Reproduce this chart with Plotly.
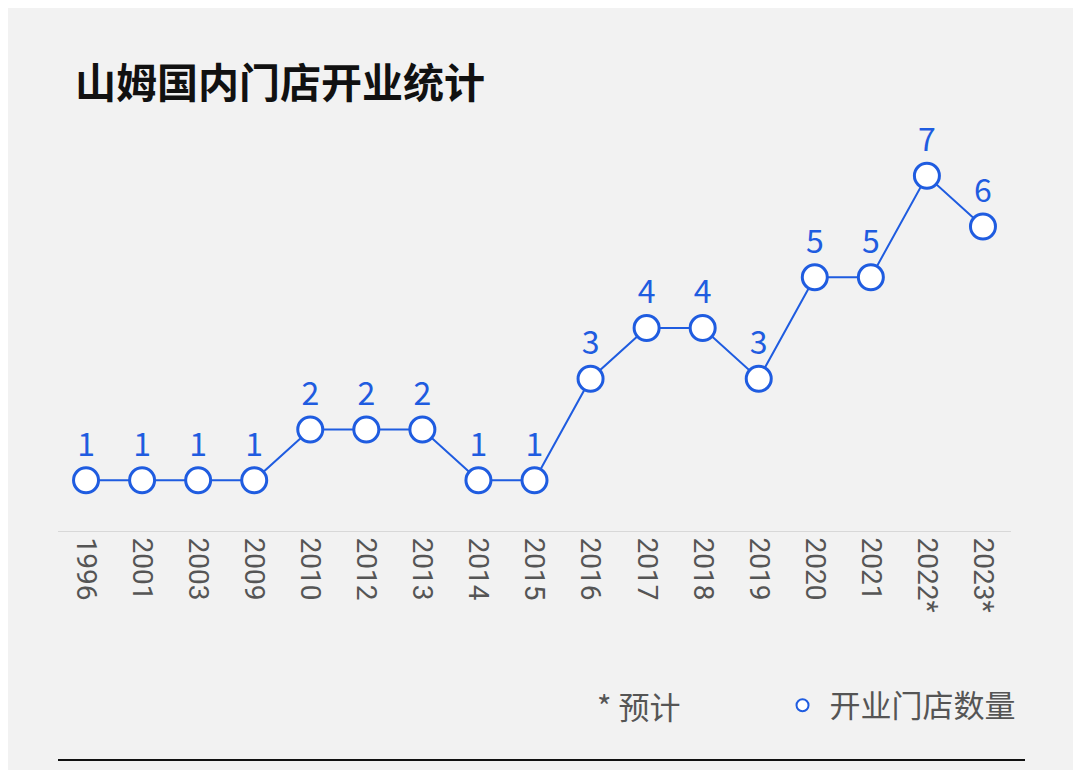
import plotly.graph_objects as go

years = ["1996","2001","2003","2009","2010","2012","2013","2014","2015","2016",
         "2017","2018","2019","2020","2021","2022*","2023*"]
stores = [1,1,1,1,2,2,2,1,1,3,4,4,3,5,5,7,6]
blue = "#1f5ce0"

fig = go.Figure()
fig.add_trace(go.Scatter(
    x=years, y=stores, mode="lines+markers+text", name="开业门店数量", showlegend=False,
    text=[str(v) for v in stores], textposition="top center",
    textfont=dict(size=32, color=blue, family="Noto Sans CJK SC"),
    line=dict(color=blue, width=2),
    marker=dict(size=25, color="white", line=dict(color=blue, width=3)),
    cliponaxis=False))
fig.add_trace(go.Scatter(
    x=[None], y=[None], mode="markers", name=" 开业门店数量",
    marker=dict(size=28, color="white", line=dict(color=blue, width=3.5))))

H = 406
fig.update_layout(
    width=1081, height=770, paper_bgcolor="#f2f2f2", plot_bgcolor="#f2f2f2",
    margin=dict(l=50, r=78, t=117, b=247),
    font=dict(family="Noto Sans CJK SC", color="#555"),
    xaxis=dict(type="category", range=[-0.5, 16.5], tickangle=90, showgrid=False,
               tickfont=dict(size=28, color="#555", family="Roboto"),
               showline=True, linecolor="#d8d8d8", linewidth=1, ticks=""),
    yaxis=dict(range=[0, 8], visible=False),
    showlegend=True,
    legend=dict(orientation="h", x=1.01, xanchor="right", y=-0.43, yanchor="middle",
                bgcolor="rgba(0,0,0,0)", font=dict(size=31, color="#555"),
                itemsizing="constant"),
    annotations=[
        dict(text="<b>山姆国内门店开业统计</b>", xref="paper", yref="paper", x=0.0,
             y=(125-80)/H+1, xshift=15, xanchor="left", yanchor="middle", showarrow=False,
             font=dict(size=41, color="#111", family="Noto Sans CJK SC")),
        dict(text="* 预计", xref="paper", yref="paper", x=(638-58)/953, y=-0.43,
             xanchor="center", yanchor="middle", showarrow=False,
             font=dict(size=31, color="#555")),
    ],
    shapes=[dict(type="line", xref="paper", yref="paper", x0=0, x1=(1025-58)/953,
                 y0=(531-760)/H, y1=(531-760)/H, line=dict(color="#111", width=2))],
)
fig.write_html("out.html")
